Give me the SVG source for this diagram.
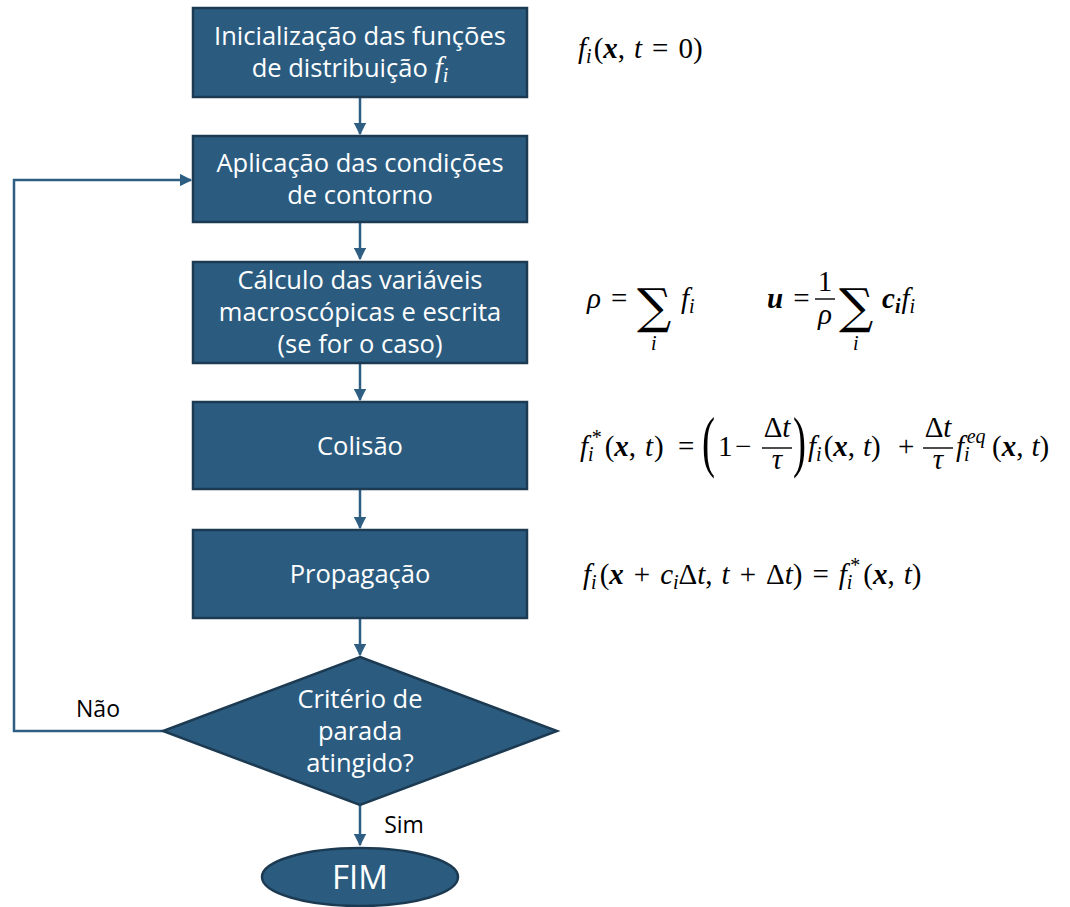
<svg xmlns="http://www.w3.org/2000/svg" width="1070" height="907" viewBox="0 0 1070 907">
<style>
.box{fill:#2B5C80;stroke:#1C3B52;stroke-width:2.5}
.t{font-family:"Open Sans","Liberation Sans",sans-serif;font-size:25.5px;fill:#fff;text-anchor:middle}
.lbl{font-family:"Open Sans","Liberation Sans",sans-serif;font-size:23px;fill:#000;text-anchor:middle}
.m{font-family:"Liberation Serif","DejaVu Serif",serif;font-size:29px;fill:#000}
.i{font-style:italic}
.b{font-weight:bold;font-style:italic}
.s{font-size:20px}
.c{fill:none;stroke:#2E5F82;stroke-width:2.5}
.fr{stroke:#000;stroke-width:1.4}
.p{font-size:46px;font-weight:normal}
.sig{font-size:48px;font-family:"DejaVu Serif",serif}
</style>
<defs>
<marker id="ah" viewBox="0 0 10 10" refX="9" refY="5" markerWidth="5" markerHeight="5" orient="auto" markerUnits="strokeWidth">
<path d="M0,0 L10,5 L0,10 z" fill="#2E5F82"/>
</marker>
</defs>
<rect width="1070" height="907" fill="#fff"/>
<g id="connectors">
<line class="c" x1="360" y1="97" x2="360" y2="134" marker-end="url(#ah)"/>
<line class="c" x1="360" y1="222" x2="360" y2="259" marker-end="url(#ah)"/>
<line class="c" x1="360" y1="363" x2="360" y2="400" marker-end="url(#ah)"/>
<line class="c" x1="360" y1="489" x2="360" y2="528" marker-end="url(#ah)"/>
<line class="c" x1="360" y1="618" x2="360" y2="655" marker-end="url(#ah)"/>
<line class="c" x1="360" y1="805" x2="360" y2="845" marker-end="url(#ah)"/>
<polyline class="c" points="163,731 14,731 14,180 191,180" marker-end="url(#ah)"/>
<text class="lbl" x="98" y="717">Não</text>
<text class="lbl" x="404" y="833">Sim</text>
</g>
<g id="n1">
<rect class="box" x="193" y="8" width="334" height="89"/>
<text class="t" x="360" y="45">Inicialização das funções</text>
<text class="t" x="350" y="77">de distribuição <tspan style="font-family:'Liberation Serif';font-style:italic;font-size:30px">f</tspan><tspan style="font-family:'Liberation Serif';font-style:italic;font-size:20px" dy="5">i</tspan></text>
</g>
<g id="n2">
<rect class="box" x="193" y="136" width="334" height="86"/>
<text class="t" x="360" y="172">Aplicação das condições</text>
<text class="t" x="360" y="204">de contorno</text>
</g>
<g id="n3">
<rect class="box" x="193" y="262" width="334" height="101"/>
<text class="t" x="360" y="289">Cálculo das variáveis</text>
<text class="t" x="360" y="321">macroscópicas e escrita</text>
<text class="t" x="360" y="353">(se for o caso)</text>
</g>
<g id="n4">
<rect class="box" x="193" y="402" width="334" height="87"/>
<text class="t" x="360" y="455">Colisão</text>
</g>
<g id="n5">
<rect class="box" x="193" y="530" width="334" height="88"/>
<text class="t" x="360" y="583">Propagação</text>
</g>
<g id="n6">
<polygon class="box" points="360,657 557,731 360,805 163,731"/>
<text class="t" x="360" y="708">Critério de</text>
<text class="t" x="360" y="740">parada</text>
<text class="t" x="360" y="772">atingido?</text>
</g>
<g id="n7">
<ellipse class="box" cx="360" cy="877" rx="98" ry="29"/>
<text class="t" x="360" y="889" style="font-size:33px">FIM</text>
</g>
<g id="eq1">
<text class="m" x="578" y="58"><tspan class="i">f</tspan><tspan class="i s" dy="5">i</tspan><tspan dy="-5" dx="2">(</tspan><tspan class="b">x</tspan>,<tspan class="i" dx="9">t</tspan><tspan dx="10">=</tspan><tspan dx="10">0)</tspan></text>
</g>
<g id="eq2">
<text class="m" x="587" y="308"><tspan class="i">ρ</tspan><tspan dx="10">=</tspan></text>
<text class="m sig" x="637" y="323">∑</text>
<text class="m i s" x="651" y="350">i</text>
<text class="m" x="681" y="308"><tspan class="i">f</tspan><tspan class="i s" dy="5">i</tspan></text>
<text class="m" x="767" y="308"><tspan class="b">u</tspan><tspan dx="10">=</tspan></text>
<text class="m" x="825" y="291" text-anchor="middle">1</text>
<line class="fr" x1="815" y1="299" x2="835" y2="299"/>
<text class="m i" x="825" y="324" text-anchor="middle">ρ</text>
<text class="m sig" x="839" y="323">∑</text>
<text class="m i s" x="853" y="350">i</text>
<text class="m" x="882" y="308"><tspan class="b">c</tspan><tspan class="b s" dy="5">i</tspan><tspan class="i" dy="-5" dx="1">f</tspan><tspan class="i s" dy="5">i</tspan></text>
</g>
<g id="eq3">
<text class="m" x="580" y="456"><tspan class="i">f</tspan><tspan class="i s" dy="5">i</tspan><tspan class="s" dx="-2" dy="-17">*</tspan><tspan dy="12" dx="3">(</tspan><tspan class="b">x</tspan>,<tspan class="i" dx="9">t</tspan><tspan dx="1">)</tspan></text>
<text class="m" x="678" y="456">=</text>
<text class="m p" transform="translate(702,464) scale(0.85,1.45)">(</text>
<text class="m" x="718" y="456">1</text>
<text class="m" x="735" y="456">−</text>
<text class="m" x="777" y="437" text-anchor="middle">Δ<tspan class="i">t</tspan></text>
<line class="fr" x1="762" y1="448" x2="792" y2="448"/>
<text class="m i" x="777" y="469" text-anchor="middle">τ</text>
<text class="m p" transform="translate(793,464) scale(0.85,1.45)">)</text>
<text class="m" x="808" y="456"><tspan class="i">f</tspan><tspan class="i s" dy="5">i</tspan><tspan dy="-5" dx="2">(</tspan><tspan class="b">x</tspan>,<tspan class="i" dx="8">t</tspan>)</text>
<text class="m" x="898" y="456">+</text>
<text class="m" x="938" y="437" text-anchor="middle">Δ<tspan class="i">t</tspan></text>
<line class="fr" x1="923" y1="448" x2="953" y2="448"/>
<text class="m i" x="938" y="469" text-anchor="middle">τ</text>
<text class="m" x="956" y="456"><tspan class="i">f</tspan><tspan class="i s" dy="5">i</tspan><tspan class="i s" dx="-3" dy="-18">eq</tspan></text>
<text class="m" x="992" y="456">(<tspan class="b">x</tspan>,<tspan class="i" dx="8">t</tspan>)</text>
</g>
<g id="eq4">
<text class="m" x="583" y="584"><tspan class="i">f</tspan><tspan class="i s" dy="5">i</tspan><tspan dy="-5" dx="3">(</tspan><tspan class="b">x</tspan><tspan dx="10">+</tspan><tspan class="i" dx="10">c</tspan><tspan class="i s" dy="5">i</tspan><tspan dy="-5">Δ</tspan><tspan class="i">t</tspan>,<tspan class="i" dx="9">t</tspan><tspan dx="10">+</tspan><tspan dx="10">Δ</tspan><tspan class="i">t</tspan>)<tspan dx="10">=</tspan><tspan class="i" dx="10">f</tspan><tspan class="i s" dy="5">i</tspan><tspan class="s" dx="-2" dy="-17">*</tspan><tspan dy="12" dx="3">(</tspan><tspan class="b">x</tspan>,<tspan class="i" dx="9">t</tspan>)</text>
</g>
</svg>
